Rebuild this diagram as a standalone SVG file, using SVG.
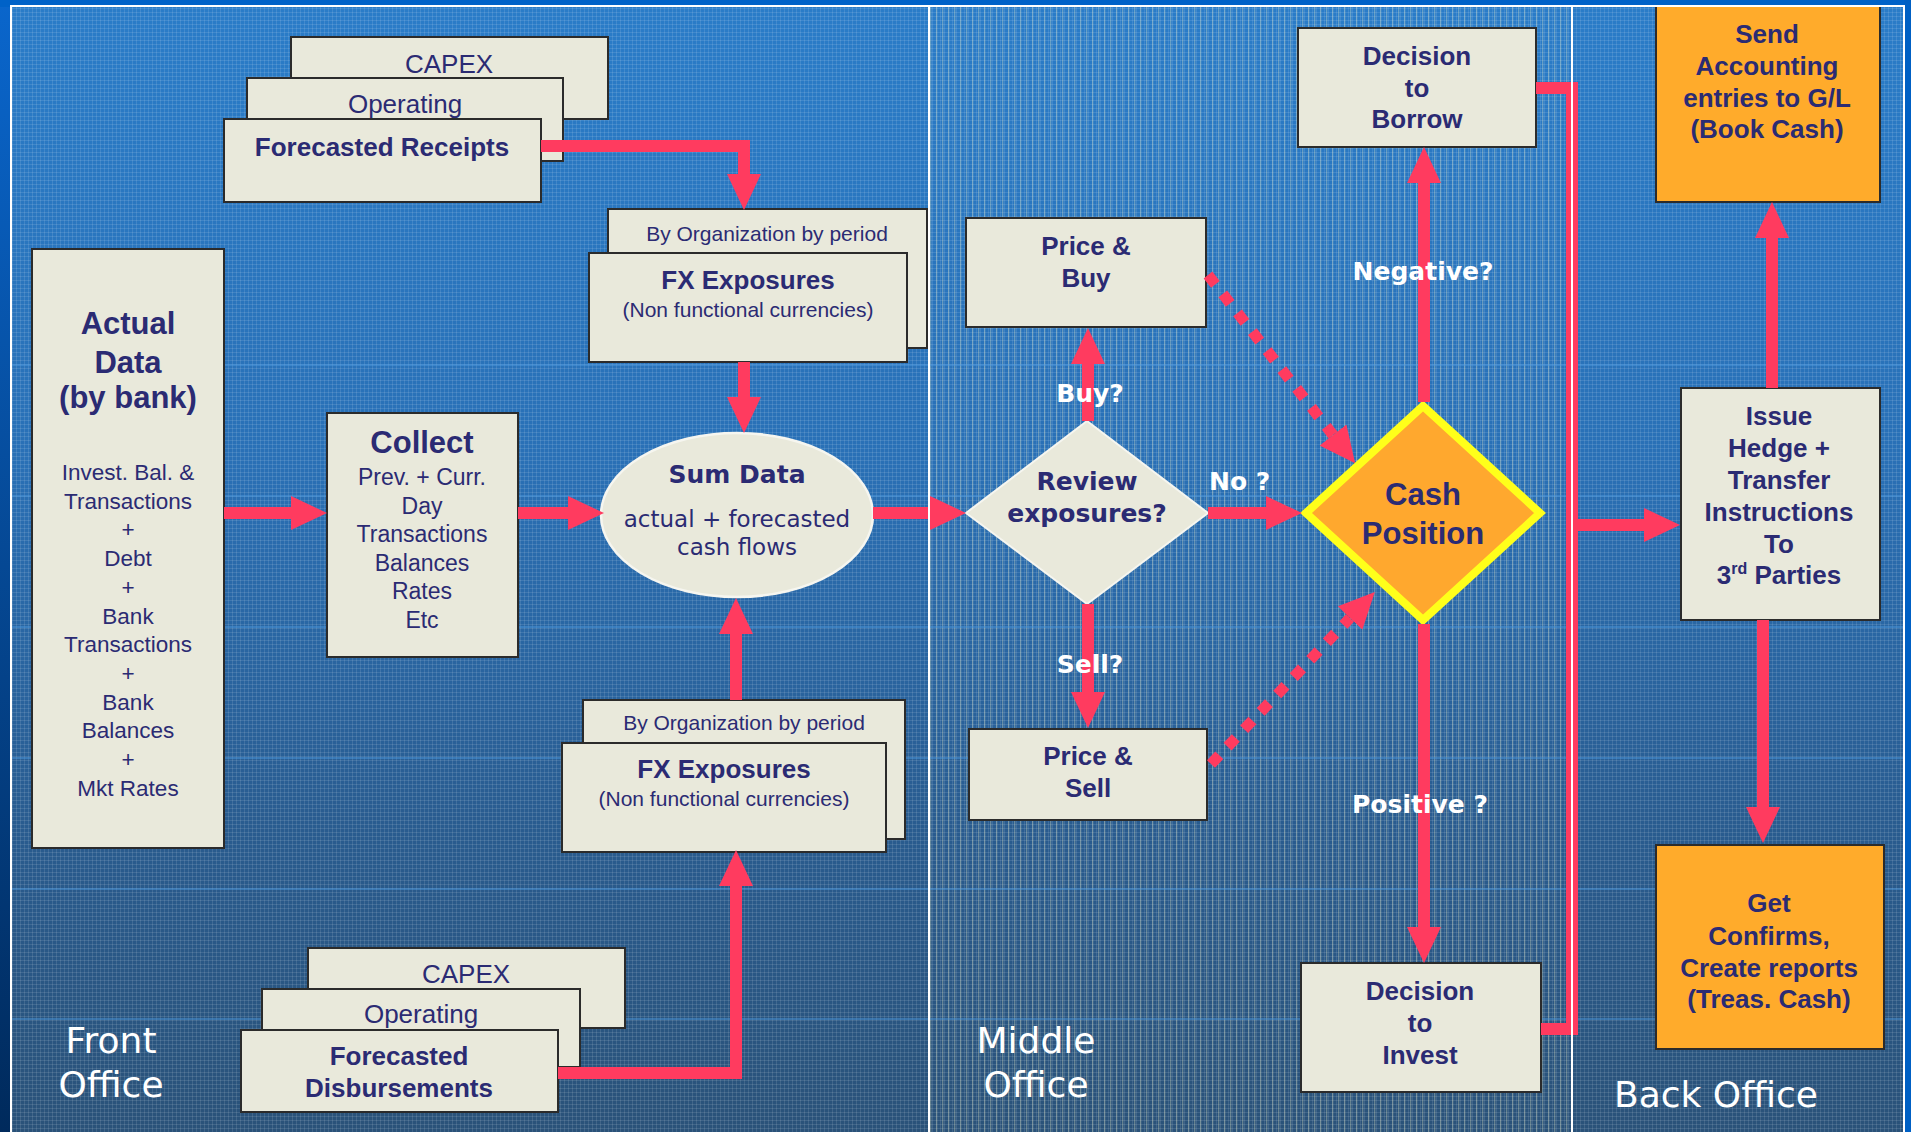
<svg xmlns="http://www.w3.org/2000/svg" width="1911" height="1132" viewBox="0 0 1911 1132">
<style>
.box{fill:#e9e9db;stroke:#2b2b2b;stroke-width:2}
.org{fill:#ffab2b;stroke:#2b2b2b;stroke-width:2}
.t{font-family:"Liberation Sans",Arial,sans-serif;fill:#2b2b73;text-anchor:middle}
.b{font-weight:bold}
.v{font-family:"DejaVu Sans",Verdana,sans-serif}
.w{fill:#ffffff}
.c{fill:none;stroke:#ff3b5f;stroke-width:12}
.a{marker-end:url(#ah)}
.d{stroke-dasharray:12 12;stroke-width:11}
.sep{stroke:#ffffff;stroke-width:2}
.hl{stroke:#4f9be0;stroke-width:2;opacity:0.45}
</style>
<defs>
<linearGradient id="frame" x1="0" y1="0" x2="0" y2="1"><stop offset="0" stop-color="#0a66cc"/><stop offset="1" stop-color="#002a5c"/></linearGradient>
<linearGradient id="bg" x1="0" y1="0" x2="0" y2="1"><stop offset="0" stop-color="#2a7cc8"/><stop offset="0.4" stop-color="#2970b6"/><stop offset="0.72" stop-color="#295c90"/><stop offset="1" stop-color="#2a5279"/></linearGradient>
<pattern id="grid" width="4" height="4" patternUnits="userSpaceOnUse"><rect x="0" y="0" width="1" height="4" fill="#ffffff" opacity="0.11"/><rect x="0" y="0" width="4" height="1" fill="#ffffff" opacity="0.11"/></pattern>
<pattern id="stripes" width="6" height="5" patternUnits="userSpaceOnUse"><rect x="0" y="0" width="1.3" height="5" fill="#f2f2c8" opacity="0.3"/></pattern>
<marker id="ah" markerUnits="userSpaceOnUse" markerWidth="36" markerHeight="34" refX="0" refY="17" orient="auto"><path d="M0,0 L36,17 L0,34 Z" fill="#ff3b5f"/></marker>
</defs>

<!-- background -->
<rect x="0" y="0" width="1911" height="1132" fill="url(#frame)"/>
<rect x="0" y="0" width="1911" height="7" fill="#0062c8"/>
<rect x="1904" y="0" width="7" height="1132" fill="#0060c4"/>
<rect x="11" y="7" width="1892" height="1125" fill="url(#bg)"/>
<rect x="11" y="7" width="1892" height="1125" fill="url(#grid)"/>
<rect x="930" y="7" width="641" height="1125" fill="url(#stripes)"/>
<g>
<line class="hl" x1="11" y1="365" x2="1903" y2="365"/>
<line class="hl" x1="11" y1="496" x2="1903" y2="496"/>
<line class="hl" x1="11" y1="627" x2="1903" y2="627"/>
<line class="hl" x1="11" y1="758" x2="1903" y2="758"/>
<line class="hl" x1="11" y1="889" x2="1903" y2="889"/>
<line class="hl" x1="11" y1="1019" x2="1903" y2="1019"/>
</g>

<!-- top receipts stack -->
<g id="capex-top"><rect class="box" x="291" y="37" width="317" height="82"/><text class="t" x="449" y="73" font-size="26">CAPEX</text></g>
<g id="operating-top"><rect class="box" x="247" y="78" width="316" height="83"/><text class="t" x="405" y="113" font-size="26">Operating</text></g>
<g id="forecasted-receipts"><rect class="box" x="224" y="119" width="317" height="83"/><text class="t b" x="382" y="156" font-size="26">Forecasted Receipts</text></g>

<!-- bottom disbursements stack -->
<g id="capex-bottom"><rect class="box" x="308" y="948" width="317" height="80"/><text class="t" x="466" y="983" font-size="26">CAPEX</text></g>
<g id="operating-bottom"><rect class="box" x="262" y="989" width="318" height="78"/><text class="t" x="421" y="1023" font-size="26">Operating</text></g>
<g id="forecasted-disbursements"><rect class="box" x="241" y="1030" width="317" height="82"/><text class="t b" x="399" y="1065" font-size="26">Forecasted</text><text class="t b" x="399" y="1097" font-size="26">Disbursements</text></g>

<!-- FX top -->
<g id="fx-top-org"><rect class="box" x="608" y="209" width="319" height="139"/><text class="t" x="767" y="241" font-size="21">By Organization by period</text></g>
<g id="fx-top"><rect class="box" x="589" y="253" width="318" height="109"/><text class="t b" x="748" y="289" font-size="26">FX Exposures</text><text class="t" x="748" y="317" font-size="21">(Non functional currencies)</text></g>

<!-- FX bottom -->
<g id="fx-bottom-org"><rect class="box" x="583" y="700" width="322" height="139"/><text class="t" x="744" y="730" font-size="21">By Organization by period</text></g>
<g id="fx-bottom"><rect class="box" x="562" y="743" width="324" height="109"/><text class="t b" x="724" y="778" font-size="26">FX Exposures</text><text class="t" x="724" y="806" font-size="21">(Non functional currencies)</text></g>

<!-- Actual data -->
<g id="actual-data"><rect class="box" x="32" y="249" width="192" height="599"/>
<text class="t b" x="128" y="334" font-size="31">Actual</text>
<text class="t b" x="128" y="373" font-size="31">Data</text>
<text class="t b" x="128" y="408" font-size="31">(by bank)</text>
<g font-size="22.5">
<text class="t" x="128" y="480">Invest. Bal. &amp;</text>
<text class="t" x="128" y="509">Transactions</text>
<text class="t" x="128" y="537">+</text>
<text class="t" x="128" y="566">Debt</text>
<text class="t" x="128" y="595">+</text>
<text class="t" x="128" y="624">Bank</text>
<text class="t" x="128" y="652">Transactions</text>
<text class="t" x="128" y="681">+</text>
<text class="t" x="128" y="710">Bank</text>
<text class="t" x="128" y="738">Balances</text>
<text class="t" x="128" y="767">+</text>
<text class="t" x="128" y="796">Mkt Rates</text>
</g></g>

<!-- Collect -->
<g id="collect"><rect class="box" x="327" y="413" width="191" height="244"/>
<text class="t b" x="422" y="453" font-size="31">Collect</text>
<g font-size="23">
<text class="t" x="422" y="485">Prev. + Curr.</text>
<text class="t" x="422" y="514">Day</text>
<text class="t" x="422" y="542">Transactions</text>
<text class="t" x="422" y="571">Balances</text>
<text class="t" x="422" y="599">Rates</text>
<text class="t" x="422" y="628">Etc</text>
</g></g>

<!-- Sum Data -->
<g id="sum-data"><ellipse cx="737" cy="515" rx="136" ry="82" fill="#e9e9db" stroke="#f6f6f0" stroke-width="2.5"/>
<text class="t v b" x="737" y="483" font-size="25">Sum Data</text>
<text class="t v" x="737" y="527" font-size="23">actual + forecasted</text>
<text class="t v" x="737" y="555" font-size="23">cash flows</text></g>

<!-- Review exposures -->
<g id="review"><polygon points="966,513 1087,421 1208,513 1087,604" fill="#e9e9db" stroke="#f6f6f0" stroke-width="2"/>
<text class="t v b" x="1087" y="490" font-size="25">Review</text>
<text class="t v b" x="1087" y="522" font-size="25">exposures?</text></g>

<g id="price-buy"><rect class="box" x="966" y="218" width="240" height="109"/><text class="t b" x="1086" y="255" font-size="26">Price &amp;</text><text class="t b" x="1086" y="287" font-size="26">Buy</text></g>
<g id="price-sell"><rect class="box" x="969" y="729" width="238" height="91"/><text class="t b" x="1088" y="765" font-size="26">Price &amp;</text><text class="t b" x="1088" y="797" font-size="26">Sell</text></g>

<!-- Cash position -->
<g id="cash-position"><polygon points="1306,513 1423,406 1540,513 1423,620" fill="#ffa82e" stroke="#ffff1a" stroke-width="8"/>
<text class="t b" x="1423" y="505" font-size="31">Cash</text>
<text class="t b" x="1423" y="544" font-size="31">Position</text></g>

<g id="borrow"><rect class="box" x="1298" y="28" width="238" height="119"/><text class="t b" x="1417" y="65" font-size="26">Decision</text><text class="t b" x="1417" y="97" font-size="26">to</text><text class="t b" x="1417" y="128" font-size="26">Borrow</text></g>
<g id="invest"><rect class="box" x="1301" y="963" width="240" height="129"/><text class="t b" x="1420" y="1000" font-size="26">Decision</text><text class="t b" x="1420" y="1032" font-size="26">to</text><text class="t b" x="1420" y="1064" font-size="26">Invest</text></g>

<!-- Back office -->
<g id="send-accounting"><rect class="org" x="1656" y="6" width="224" height="196"/>
<text class="t b" x="1767" y="43" font-size="26">Send</text>
<text class="t b" x="1767" y="75" font-size="26">Accounting</text>
<text class="t b" x="1767" y="107" font-size="26">entries to G/L</text>
<text class="t b" x="1767" y="138" font-size="26">(Book Cash)</text></g>
<g id="issue-hedge"><rect class="box" x="1681" y="388" width="199" height="232"/>
<text class="t b" x="1779" y="425" font-size="26">Issue</text>
<text class="t b" x="1779" y="457" font-size="26">Hedge +</text>
<text class="t b" x="1779" y="489" font-size="26">Transfer</text>
<text class="t b" x="1779" y="521" font-size="26">Instructions</text>
<text class="t b" x="1779" y="553" font-size="26">To</text>
<text class="t b" x="1779" y="584" font-size="26">3<tspan font-size="16" dy="-10">rd</tspan><tspan dy="10"> Parties</tspan></text></g>
<g id="get-confirms"><rect class="org" x="1656" y="845" width="228" height="204"/>
<text class="t b" x="1769" y="912" font-size="26">Get</text>
<text class="t b" x="1769" y="945" font-size="26">Confirms,</text>
<text class="t b" x="1769" y="977" font-size="26">Create reports</text>
<text class="t b" x="1769" y="1008" font-size="26">(Treas. Cash)</text></g>

<!-- connectors -->
<g id="connectors">
<path class="c a" d="M541,146 H744 V174"/>
<path class="c a" d="M744,362 V397"/>
<path class="c a" d="M558,1073 H736 V886"/>
<path class="c a" d="M736,700 V634"/>
<path class="c a" d="M224,513 H291"/>
<path class="c a" d="M518,513 H568"/>
<path class="c a" d="M873,513 H930"/>
<path class="c a" d="M1088,421 V364"/>
<path class="c a" d="M1088,604 V692"/>
<path class="c a" d="M1208,513 H1266"/>
<path class="c a" d="M1424,402 V183"/>
<path class="c a" d="M1424,624 V927"/>
<path class="c d a" d="M1208,275 L1333,435"/>
<path class="c d a" d="M1211,764 L1350,618"/>
<path class="c" stroke-width="11" d="M1536,88 H1572 V1029 H1541"/>
<path class="c a" d="M1578,525 H1644"/>
<path class="c a" d="M1772,388 V238"/>
<path class="c a" d="M1763,620 V807"/>
</g>

<!-- labels -->
<g id="labels">
<text class="v b w" x="1090" y="402" font-size="25" text-anchor="middle">Buy?</text>
<text class="v b w" x="1090" y="673" font-size="25" text-anchor="middle">Sell?</text>
<text class="v b w" x="1209" y="490" font-size="25">No ?</text>
<text class="v b w" x="1423" y="280" font-size="25" text-anchor="middle">Negative?</text>
<text class="v b w" x="1420" y="813" font-size="25" text-anchor="middle">Positive ?</text>
</g>

<!-- separators and frame lines -->
<g>
<line class="sep" x1="929" y1="7" x2="929" y2="1132"/>
<line class="sep" x1="1572" y1="7" x2="1572" y2="1132"/>
<line class="sep" x1="10" y1="6" x2="1905" y2="6"/>
<line class="sep" x1="11" y1="6" x2="11" y2="1132"/>
<line class="sep" x1="1904" y1="6" x2="1904" y2="1132"/>
</g>

<g id="office-labels" font-family="'DejaVu Sans',Verdana,sans-serif" font-size="36" fill="#ffffff" text-anchor="middle">
<text x="111" y="1053">Front</text>
<text x="111" y="1097">Office</text>
<text x="1036" y="1053">Middle</text>
<text x="1036" y="1097">Office</text>
<text x="1716" y="1107">Back Office</text>
</g>
</svg>
